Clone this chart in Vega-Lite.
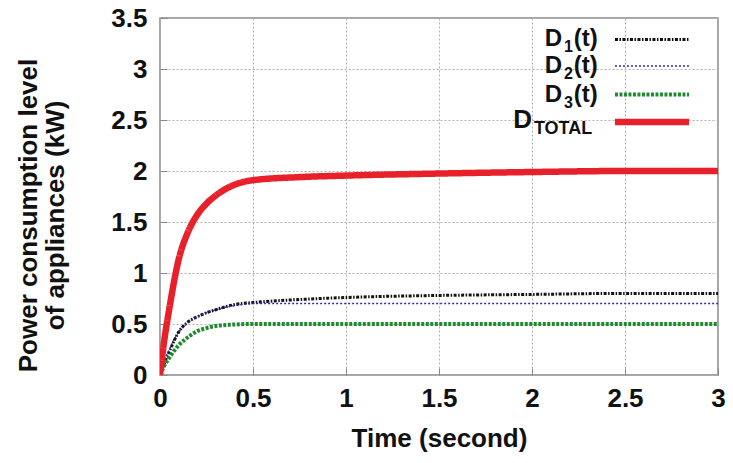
{
  "$schema": "https://vega.github.io/schema/vega-lite/v6.json",
  "width": 558,
  "height": 357,
  "autosize": {"type": "none"},
  "padding": {"left": 160, "top": 18, "right": 15, "bottom": 88},
  "background": "white",
  "config": {
    "view": {"stroke": "#888888", "strokeWidth": 1.5},
    "font": "Liberation Sans",
    "axis": {
      "labelFont": "Liberation Sans", "labelFontWeight": "bold", "labelFontSize": 26, "labelColor": "#111",
      "titleFont": "Liberation Sans", "titleFontWeight": "bold", "titleFontSize": 26, "titleColor": "#111",
      "grid": true, "gridColor": "#b0b0b0", "gridDash": [2, 2], "gridWidth": 1,
      "domain": false, "tickColor": "#888888", "tickSize": -7, "tickWidth": 1
    }
  },
  "datasets": {
    "curves": [
      {"t": 0, "v": 0, "s": "D1"}, {"t": 0.02, "v": 0.1, "s": "D1"}, {"t": 0.05, "v": 0.23, "s": "D1"}, {"t": 0.1, "v": 0.42, "s": "D1"}, {"t": 0.15, "v": 0.52, "s": "D1"}, {"t": 0.2, "v": 0.57, "s": "D1"}, {"t": 0.25, "v": 0.61, "s": "D1"}, {"t": 0.3, "v": 0.64, "s": "D1"}, {"t": 0.4, "v": 0.69, "s": "D1"}, {"t": 0.5, "v": 0.71, "s": "D1"}, {"t": 0.75, "v": 0.74, "s": "D1"}, {"t": 1, "v": 0.76, "s": "D1"}, {"t": 1.5, "v": 0.78, "s": "D1"}, {"t": 2, "v": 0.79, "s": "D1"}, {"t": 2.5, "v": 0.8, "s": "D1"}, {"t": 3, "v": 0.8, "s": "D1"},
      {"t": 0, "v": 0, "s": "D2"}, {"t": 0.02, "v": 0.12, "s": "D2"}, {"t": 0.05, "v": 0.25, "s": "D2"}, {"t": 0.1, "v": 0.42, "s": "D2"}, {"t": 0.15, "v": 0.51, "s": "D2"}, {"t": 0.2, "v": 0.57, "s": "D2"}, {"t": 0.25, "v": 0.61, "s": "D2"}, {"t": 0.3, "v": 0.64, "s": "D2"}, {"t": 0.4, "v": 0.68, "s": "D2"}, {"t": 0.5, "v": 0.7, "s": "D2"}, {"t": 0.75, "v": 0.7, "s": "D2"}, {"t": 1, "v": 0.7, "s": "D2"}, {"t": 1.5, "v": 0.7, "s": "D2"}, {"t": 2, "v": 0.7, "s": "D2"}, {"t": 2.5, "v": 0.7, "s": "D2"}, {"t": 3, "v": 0.7, "s": "D2"},
      {"t": 0, "v": 0, "s": "D3"}, {"t": 0.02, "v": 0.08, "s": "D3"}, {"t": 0.05, "v": 0.17, "s": "D3"}, {"t": 0.1, "v": 0.29, "s": "D3"}, {"t": 0.15, "v": 0.37, "s": "D3"}, {"t": 0.2, "v": 0.43, "s": "D3"}, {"t": 0.25, "v": 0.46, "s": "D3"}, {"t": 0.3, "v": 0.48, "s": "D3"}, {"t": 0.4, "v": 0.495, "s": "D3"}, {"t": 0.5, "v": 0.5, "s": "D3"}, {"t": 0.75, "v": 0.5, "s": "D3"}, {"t": 1, "v": 0.5, "s": "D3"}, {"t": 1.5, "v": 0.5, "s": "D3"}, {"t": 2, "v": 0.5, "s": "D3"}, {"t": 2.5, "v": 0.5, "s": "D3"}, {"t": 3, "v": 0.5, "s": "D3"},
      {"t": 0, "v": 0, "s": "DT"}, {"t": 0.02, "v": 0.3, "s": "DT"}, {"t": 0.05, "v": 0.65, "s": "DT"}, {"t": 0.1, "v": 1.13, "s": "DT"}, {"t": 0.15, "v": 1.4, "s": "DT"}, {"t": 0.2, "v": 1.57, "s": "DT"}, {"t": 0.25, "v": 1.68, "s": "DT"}, {"t": 0.3, "v": 1.76, "s": "DT"}, {"t": 0.4, "v": 1.865, "s": "DT"}, {"t": 0.5, "v": 1.91, "s": "DT"}, {"t": 0.75, "v": 1.94, "s": "DT"}, {"t": 1, "v": 1.955, "s": "DT"}, {"t": 1.5, "v": 1.975, "s": "DT"}, {"t": 2, "v": 1.99, "s": "DT"}, {"t": 2.5, "v": 2.0, "s": "DT"}, {"t": 3, "v": 2.0, "s": "DT"}
    ],
    "legend": [
      {"s": "D1", "y": 3.29, "x1": 2.446, "x2": 2.844, "main": "D", "sub": "1", "tail": "(t)"},
      {"s": "D2", "y": 3.03, "x1": 2.446, "x2": 2.844, "main": "D", "sub": "2", "tail": "(t)"},
      {"s": "D3", "y": 2.75, "x1": 2.446, "x2": 2.844, "main": "D", "sub": "3", "tail": "(t)"},
      {"s": "DT", "y": 2.48, "x1": 2.446, "x2": 2.844, "main": "D", "sub": "TOTAL", "tail": ""}
    ]
  },
  "encoding": {},
  "layer": [
    {
      "data": {"name": "curves"},
      "mark": {"type": "line", "interpolate": "monotone", "clip": true},
      "encoding": {
        "x": {"field": "t", "type": "quantitative", "scale": {"domain": [0, 3], "nice": false}, "axis": {"values": [0, 0.5, 1, 1.5, 2, 2.5, 3], "labelExpr": "'' + datum.value", "title": "Time (second)", "labelPadding": 17, "titlePadding": 14, "labelFlush": false}},
        "y": {"field": "v", "type": "quantitative", "scale": {"domain": [0, 3.5], "nice": false}, "axis": {"values": [0, 0.5, 1, 1.5, 2, 2.5, 3, 3.5], "labelExpr": "'' + datum.value", "title": ["Power consumption level", "of appliances (kW)"], "labelPadding": 20, "titlePadding": 42, "titleLineHeight": 27, "titleY": 197, "labelFlush": false}},
        "color": {"field": "s", "type": "nominal", "scale": {"domain": ["D1", "D2", "D3", "DT"], "range": ["#111111", "#2b2bb0", "#1f8a2e", "#e8202a"]}, "legend": null},
        "strokeDash": {"field": "s", "type": "nominal", "scale": {"domain": ["D1", "D2", "D3", "DT"], "range": [[3, 1.5, 1.5, 1.5], [2, 2], [3, 1.5], [1, 0]]}, "legend": null},
        "strokeWidth": {"field": "s", "type": "nominal", "scale": {"type": "ordinal", "domain": ["D1", "D2", "D3", "DT"], "range": [3, 1.5, 4, 6.5]}, "legend": null},
        "order": {"field": "t", "type": "quantitative"}
      }
    },
    {
      "data": {"name": "legend"},
      "mark": {"type": "rule"},
      "encoding": {
        "x": {"field": "x1", "type": "quantitative"},
        "x2": {"field": "x2"},
        "y": {"field": "y", "type": "quantitative"},
        "color": {"field": "s", "type": "nominal", "legend": null},
        "strokeDash": {"field": "s", "type": "nominal", "legend": null},
        "strokeWidth": {"field": "s", "type": "nominal", "scale": {"type": "ordinal", "domain": ["D1", "D2", "D3", "DT"], "range": [3, 1.5, 4, 8]}, "legend": null}
      }
    },
    {
      "data": {"name": "legend"},
      "transform": [{"filter": "datum.s != 'DT'"}],
      "mark": {"type": "text", "align": "right", "baseline": "middle", "font": "Liberation Sans", "fontWeight": "bold", "fontSize": 24, "color": "#111", "dy": 0},
      "encoding": {
        "x": {"datum": 2.162, "type": "quantitative"},
        "y": {"field": "y", "type": "quantitative"},
        "text": {"field": "main"}
      }
    },
    {
      "data": {"name": "legend"},
      "transform": [{"filter": "datum.s != 'DT'"}],
      "mark": {"type": "text", "align": "left", "baseline": "top", "font": "Liberation Sans", "fontWeight": "bold", "fontSize": 16, "color": "#111", "dy": 0, "dx": 1},
      "encoding": {
        "x": {"datum": 2.167, "type": "quantitative"},
        "y": {"field": "y", "type": "quantitative"},
        "text": {"field": "sub"}
      }
    },
    {
      "data": {"name": "legend"},
      "transform": [{"filter": "datum.s != 'DT'"}],
      "mark": {"type": "text", "align": "left", "baseline": "middle", "font": "Liberation Sans", "fontWeight": "bold", "fontSize": 24, "color": "#111", "dy": 0},
      "encoding": {
        "x": {"datum": 2.225, "type": "quantitative"},
        "y": {"field": "y", "type": "quantitative"},
        "text": {"field": "tail"}
      }
    },
    {
      "data": {"name": "legend"},
      "transform": [{"filter": "datum.s == 'DT'"}],
      "mark": {"type": "text", "align": "right", "baseline": "middle", "font": "Liberation Sans", "fontWeight": "bold", "fontSize": 26, "color": "#111", "dy": -2},
      "encoding": {
        "x": {"datum": 2.0, "type": "quantitative"},
        "y": {"field": "y", "type": "quantitative"},
        "text": {"field": "main"}
      }
    },
    {
      "data": {"name": "legend"},
      "transform": [{"filter": "datum.s == 'DT'"}],
      "mark": {"type": "text", "align": "left", "baseline": "top", "font": "Liberation Sans", "fontWeight": "bold", "fontSize": 18, "color": "#111", "dy": -2, "dx": 1},
      "encoding": {
        "x": {"datum": 2.005, "type": "quantitative"},
        "y": {"field": "y", "type": "quantitative"},
        "text": {"field": "sub"}
      }
    }
  ]
}
